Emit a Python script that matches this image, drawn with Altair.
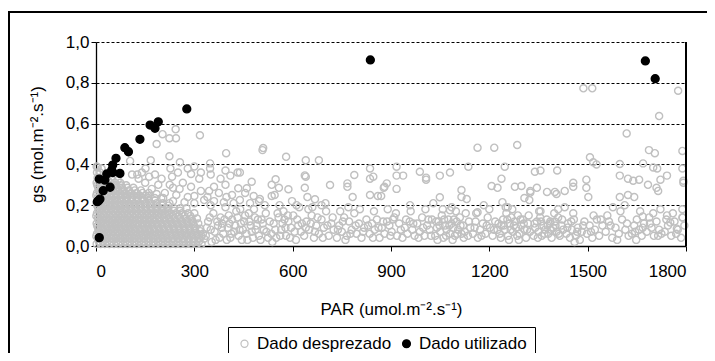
import altair as alt
import pandas as pd

FONT = "Liberation Sans"

# ---- "Dado utilizado" (black, filled) : (PAR, gs)
used_pts = [
    (4, 0.217), (8, 0.222), (12, 0.23), (10, 0.041), (22, 0.271), (27, 0.323),
    (43, 0.288), (10, 0.328), (33, 0.353), (51, 0.36), (73, 0.356), (48, 0.373),
    (51, 0.397), (61, 0.43), (88, 0.482), (99, 0.462), (134, 0.523), (165, 0.593),
    (180, 0.577), (190, 0.609), (277, 0.672), (837, 0.912), (1676, 0.907), (1706, 0.82),
]

# ---- "Dado desprezado" (grey, hollow)
# dense mass near the origin: rows of (gs, [PAR values])
blob_rows = [
    (0.010, [2, 14, 27, 41, 55, 68, 82, 96, 110, 124, 139, 153, 168, 182, 197, 212, 227, 243, 258, 274, 290, 306, 322]),
    (0.0225, [9, 21, 34, 48, 62, 75, 89, 103, 117, 131, 146, 160, 175, 190, 204, 219, 235, 250, 266, 282, 298, 314]),
    (0.035, [6, 20, 34, 48, 61, 75, 89, 103, 117, 131, 146, 160, 175, 189, 204, 219, 235, 250, 266, 282, 298, 314, 330]),
    (0.0475, [1, 13, 27, 41, 54, 68, 82, 96, 110, 124, 139, 153, 168, 182, 197, 212, 227, 243, 258, 274, 290, 306, 322]),
    (0.060, [3, 16, 30, 44, 58, 71, 85, 99, 113, 127, 142, 156, 171, 186, 200, 215, 231, 246, 262, 278, 294, 310, 326]),
    (0.0725, [10, 23, 37, 51, 65, 78, 92, 106, 120, 135, 149, 164, 178, 193, 208, 223, 239, 255, 270, 286, 302, 318]),
    (0.085, [7, 21, 35, 49, 62, 76, 90, 104, 118, 133, 148, 162, 177, 192, 207, 223, 238, 254, 270, 286, 302, 318]),
    (0.0975, [4, 17, 31, 45, 59, 72, 86, 100, 114, 128, 143, 158, 172, 188, 203, 219, 235, 251, 267, 283, 300]),
    (0.110, [2, 15, 29, 43, 57, 70, 84, 98, 112, 126, 141, 155, 170, 185, 200, 216, 231, 247, 263, 279, 296, 312]),
    (0.1225, [9, 22, 36, 50, 64, 77, 91, 105, 119, 134, 149, 164, 179, 195, 211, 227, 243, 260, 277, 294]),
    (0.135, [6, 19, 33, 47, 60, 74, 88, 102, 116, 131, 146, 161, 176, 192, 208, 224, 240, 257, 274, 291, 308]),
    (0.1475, [1, 14, 28, 42, 56, 69, 83, 97, 111, 125, 140, 155, 170, 186, 202, 218, 235, 252, 270, 288]),
    (0.160, [3, 17, 31, 45, 59, 72, 86, 100, 115, 130, 145, 161, 177, 193, 210, 227, 244, 262, 281, 300]),
    (0.1725, [10, 24, 38, 52, 66, 79, 93, 108, 123, 138, 153, 169, 185, 202, 219, 237, 256]),
    (0.185, [7, 20, 34, 48, 62, 76, 90, 105, 120, 136, 152, 168, 185, 202, 220, 238, 257, 276]),
    (0.1975, [4, 17, 31, 45, 59, 73, 88, 103, 118, 134, 150, 167, 184, 202, 221]),
    (0.210, [2, 15, 29, 43, 57, 71, 86, 101, 117, 133, 150, 167, 185, 204, 224]),
    (0.2225, [9, 22, 36, 50, 64, 79, 94, 110, 126, 143, 161, 180]),
    (0.235, [6, 19, 33, 47, 61, 76, 92, 108, 125, 142, 160, 179, 199]),
    (0.2475, [1, 13, 26, 40, 54, 68, 83, 99, 116, 133, 151]),
    (0.260, [3, 16, 30, 44, 59, 74, 90, 107, 124, 142, 161]),
    (0.2725, [10, 24, 38, 52, 67, 83, 100, 118, 137]),
    (0.285, [7, 20, 34, 48, 63, 79, 96, 114]),
    (0.2975, [4, 17, 31, 45, 60, 76, 92]),
    (0.310, [2, 15, 29, 43, 58, 74]),
    (0.3225, [9, 22, 36, 50, 66]),
    (0.335, [5, 18, 32]),
    (0.360, [3, 12]),
    (0.385, [5]),
]

blob_extra = [
    (126, 0.35), (140, 0.36), (162, 0.34), (180, 0.35), (200, 0.33), (232, 0.34), (250, 0.36),
    (280, 0.38), (300, 0.39), (320, 0.36), (350, 0.35), (380, 0.33), (395, 0.37), (410, 0.345),
    (210, 0.26), (235, 0.22), (255, 0.28), (280, 0.24), (300, 0.21), (320, 0.27), (190, 0.30),
    (150, 0.31), (170, 0.28), (265, 0.31), (225, 0.30), (315, 0.33), (290, 0.29), (245, 0.25),
    (340, 0.24), (130, 0.33), (110, 0.35), (205, 0.235), (270, 0.215), (330, 0.225), (360, 0.29),
    (375, 0.26), (395, 0.30), (415, 0.25), (300, 0.245), (185, 0.255), (235, 0.285), (160, 0.245),
    (350, 0.20), (390, 0.215),
]

band_pts = [
    (335, .05), (342, .12), (350, .08), (358, .16), (365, .03), (372, .10), (380, .14), (388, .06),
    (395, .19), (402, .09), (410, .04), (415, .13), (422, .07), (428, .17), (360, .22), (398, .24),
    (345, .27), (420, .21), (385, .11), (405, .15),
    (435, .05), (442, .11), (448, .08), (455, .15), (462, .03), (468, .12), (475, .07), (482, .18),
    (490, .10), (497, .05), (505, .13), (512, .08), (518, .16), (525, .04), (470, .21), (500, .23),
    (455, .26), (515, .20), (440, .18), (485, .14),
    (535, .06), (542, .11), (550, .04), (557, .14), (565, .08), (572, .17), (580, .05), (587, .12),
    (595, .09), (602, .15), (610, .03), (617, .10), (625, .07), (560, .20), (598, .22), (545, .25),
    (620, .19), (575, .13),
    (635, .05), (642, .12), (650, .08), (658, .15), (665, .04), (672, .10), (680, .06), (688, .13),
    (695, .09), (702, .17), (710, .05), (718, .11), (725, .08), (660, .19), (700, .21), (648, .18),
    (735, .04), (742, .10), (750, .07), (757, .14), (765, .05), (772, .12), (780, .08), (788, .16),
    (795, .06), (802, .11), (810, .04), (818, .09), (825, .13), (770, .19), (805, .18), (745, .17),
    (835, .06), (842, .11), (850, .08), (857, .13), (865, .04), (872, .09), (880, .06), (888, .12),
    (895, .10), (902, .07), (910, .14), (918, .05), (925, .11), (848, .17), (890, .18), (915, .16),
    (935, .04), (942, .09), (950, .06), (957, .12), (965, .08), (972, .05), (980, .11), (988, .07),
    (995, .14), (1002, .05), (1010, .10), (1018, .08), (1025, .13), (960, .17), (1005, .18),
    (1035, .05), (1040, .09), (1045, .12), (1050, .07), (1055, .15), (1060, .04), (1065, .10),
    (1070, .08), (1075, .13), (1080, .06), (1085, .11), (1090, .09), (1095, .05), (1100, .12),
    (1105, .08), (1110, .14), (1115, .06), (1120, .10), (1125, .07), (1058, .18), (1098, .17),
    (1042, .03), (1088, .03), (1128, .16),
    (1135, .05), (1142, .09), (1150, .06), (1158, .12), (1165, .04), (1172, .08), (1180, .11),
    (1188, .06), (1195, .14), (1202, .09), (1210, .05), (1218, .12), (1225, .08), (1160, .16),
    (1200, .18),
    (1232, .06), (1237, .10), (1242, .13), (1247, .08), (1252, .16), (1257, .05), (1262, .11),
    (1267, .14), (1272, .07), (1277, .12), (1282, .09), (1287, .15), (1292, .06), (1297, .10),
    (1302, .13), (1307, .08), (1312, .04), (1318, .11), (1324, .07), (1250, .19), (1270, .18),
    (1290, .03), (1260, .03),
    (1335, .05), (1340, .09), (1345, .12), (1350, .07), (1355, .14), (1360, .05), (1365, .10),
    (1370, .08), (1375, .13), (1380, .06), (1385, .11), (1390, .04), (1395, .09), (1400, .12),
    (1405, .07), (1410, .14), (1415, .05), (1420, .10), (1425, .08), (1352, .17), (1398, .16),
    (1435, .06), (1440, .11), (1446, .04), (1452, .08), (1458, .13), (1464, .05), (1470, .09),
    (1476, .03), (1482, .07), (1490, .12), (1498, .06), (1506, .10), (1514, .04), (1522, .08),
    (1528, .13), (1460, .02),
    (1535, .05), (1545, .10), (1555, .07), (1565, .12), (1575, .04), (1585, .09), (1595, .06),
    (1605, .13), (1615, .08), (1625, .05), (1560, .15), (1600, .17), (1590, .03),
    (1635, .06), (1642, .10), (1650, .13), (1657, .08), (1665, .05), (1672, .11), (1680, .07),
    (1688, .14), (1695, .09), (1702, .05), (1710, .12), (1718, .08), (1725, .06), (1660, .17),
    (1700, .16), (1648, .03),
    (1735, .07), (1745, .10), (1755, .05), (1765, .12), (1775, .08), (1785, .04), (1795, .10),
    (1790, .14), (1760, .16),
]

band_more = [
    (338, .09), (347, .14), (353, .02), (362, .07), (370, .12), (377, .04), (384, .09), (392, .13),
    (399, .03), (407, .11), (413, .06), (425, .10), (432, .14), (438, .08), (445, .03), (452, .12),
    (459, .06), (466, .16), (472, .10), (479, .04), (487, .08), (494, .13), (502, .03), (509, .11),
    (520, .07), (530, .12), (538, .02), (547, .08), (554, .16), (562, .05), (569, .11), (578, .09),
    (585, .15), (592, .04), (606, .07), (614, .13), (628, .11), (640, .09), (655, .11), (668, .07),
    (676, .14), (692, .04), (706, .10), (722, .14), (738, .08), (753, .12), (761, .03), (776, .06),
    (792, .10), (815, .07), (830, .10), (845, .04), (862, .09), (876, .12), (898, .05), (906, .13),
    (930, .08), (946, .13), (968, .11), (984, .04), (998, .09), (1014, .13), (1022, .05), (1038, .12),
    (1048, .10), (1062, .13), (1068, .05), (1078, .10), (1092, .13), (1102, .06), (1112, .10),
    (1122, .04), (1138, .12), (1155, .09), (1176, .05), (1192, .10), (1214, .08), (1228, .11),
    (1235, .04), (1244, .10), (1255, .13), (1265, .08), (1275, .10), (1285, .05), (1295, .13),
    (1305, .11), (1315, .08), (1338, .11), (1348, .04), (1358, .12), (1368, .06), (1378, .10),
    (1388, .08), (1402, .10), (1412, .06), (1422, .13), (1438, .09), (1450, .12), (1468, .07),
    (1486, .10), (1510, .07), (1540, .13), (1570, .10), (1620, .11), (1645, .07), (1668, .09),
    (1690, .11), (1715, .05), (1740, .13), (1770, .06),
]

upper_pts = [
    (348, 0.38), (397, 0.455), (510, 0.48), (508, 0.47), (580, 0.437), (640, 0.42), (680, 0.42),
    (640, 0.34), (788, 0.348), (203, 0.548), (243, 0.572), (224, 0.528), (244, 0.528), (317, 0.543),
    (185, 0.50), (167, 0.42), (224, 0.44), (256, 0.41), (104, 0.417), (348, 0.405), (432, 0.36),
    (290, 0.353), (227, 0.38), (151, 0.38), (2, 0.39), (17, 0.38),
    (439, 0.36), (475, 0.315), (548, 0.327), (637, 0.346), (714, 0.299), (767, 0.307), (836, 0.38),
    (836, 0.33), (846, 0.34), (767, 0.29), (434, 0.283), (460, 0.283), (536, 0.30), (558, 0.285),
    (587, 0.278), (637, 0.285), (645, 0.24), (668, 0.229), (536, 0.245), (836, 0.25), (860, 0.245),
    (878, 0.285), (481, 0.245), (439, 0.225), (497, 0.22), (612, 0.20), (688, 0.20), (783, 0.24),
    (1164, 0.482), (1215, 0.482), (1285, 0.495), (917, 0.389), (988, 0.364), (1080, 0.36),
    (1136, 0.389), (1247, 0.389), (917, 0.345), (937, 0.345), (887, 0.307), (880, 0.29), (917, 0.28),
    (1007, 0.335), (1007, 0.325), (1049, 0.345), (1237, 0.33), (1207, 0.294), (1225, 0.285),
    (1278, 0.29), (1298, 0.294), (1115, 0.274), (1115, 0.24), (1131, 0.23), (1049, 0.239),
    (958, 0.20), (1029, 0.21), (1085, 0.19), (1080, 0.175), (1164, 0.165), (1183, 0.20),
    (1240, 0.215), (1256, 0.19), (1322, 0.225), (1307, 0.235), (870, 0.245),
    (1718, 0.637), (1619, 0.552), (1507, 0.435), (1517, 0.41), (1527, 0.40), (1687, 0.47),
    (1705, 0.455), (1789, 0.466), (1598, 0.402), (1669, 0.405), (1700, 0.385), (1712, 0.38),
    (1789, 0.38), (1339, 0.364), (1356, 0.37), (1407, 0.37), (1598, 0.345), (1623, 0.33),
    (1639, 0.32), (1657, 0.325), (1496, 0.325), (1722, 0.325), (1742, 0.345), (1792, 0.32),
    (1792, 0.31), (1456, 0.31), (1456, 0.29), (1496, 0.285), (1684, 0.30), (1710, 0.285),
    (1715, 0.27), (1325, 0.27), (1325, 0.262), (1345, 0.285), (1376, 0.265), (1400, 0.265),
    (1405, 0.255), (1430, 0.27), (1502, 0.24), (1598, 0.24), (1623, 0.25), (1642, 0.24),
    (1613, 0.20), (1577, 0.19), (1722, 0.18), (1789, 0.18), (1789, 0.14), (1742, 0.15),
    (1668, 0.145), (1752, 0.115), (1772, 0.085), (1430, 0.19), (1456, 0.16), (1410, 0.18),
    (1518, 0.15), (1386, 0.12), (1356, 0.17), (1320, 0.15),
    (1487, 0.773), (1514, 0.773), (1776, 0.761),
]

x_ticks = [0, 300, 600, 900, 1200, 1500, 1800]
y_ticks = [0.0, 0.2, 0.4, 0.6, 0.8, 1.0]
series = ["Dado desprezado", "Dado utilizado"]

rows = []
for g, pars in blob_rows:
    for p in pars:
        rows.append({"par": p, "gs": g, "tipo": series[0], "ord": 0})
for p, g in blob_extra + band_pts + band_more + upper_pts:
    rows.append({"par": p, "gs": g, "tipo": series[0], "ord": 0})
for p, g in used_pts:
    rows.append({"par": p, "gs": g, "tipo": series[1], "ord": 1})
df = pd.DataFrame(rows)

W, H = 590, 204

leg = alt.Legend(title=None)

points = alt.Chart(df).mark_point(shape="circle", strokeWidth=1.4, opacity=1).encode(
    x=alt.X("par:Q", scale=alt.Scale(domain=[0, 1800], nice=False, zero=False),
            axis=alt.Axis(values=x_ticks, format="d", title="PAR (umol.m⁻².s⁻¹)", grid=False,
                          labelFontSize=17, titleFontSize=17, labelPadding=12,
                          titlePadding=22, tickSize=5)),
    y=alt.Y("gs:Q", scale=alt.Scale(domain=[0, 1], nice=False),
            axis=alt.Axis(values=y_ticks, title="gs (mol.m⁻².s⁻¹)", grid=True,
                          gridDash=[3, 2], gridColor="black", gridWidth=1,
                          labelExpr="replace(format(datum.value, '.1f'), '.', ',')",
                          labelFontSize=17, titleFontSize=17, labelPadding=2,
                          titlePadding=19, tickSize=5)),
    stroke=alt.Stroke("tipo:N", scale=alt.Scale(domain=series, range=["#c0c0c0", "#000000"]), legend=leg),
    fill=alt.Fill("tipo:N", scale=alt.Scale(domain=series, range=["transparent", "#000000"]), legend=leg),
    size=alt.Size("tipo:N", scale=alt.Scale(domain=series, range=[50, 62]), legend=leg),
    order=alt.Order("ord:Q"),
)

right_edge = alt.Chart(df).mark_rule(color="black", strokeWidth=1.2).encode(
    x=alt.datum(1800), y=alt.datum(0), y2=alt.datum(1)
)

frame = alt.Chart(df).mark_rect(filled=False, stroke="black", strokeWidth=1.2).encode(
    x=alt.value(-87), x2=alt.value(740), y=alt.value(-30), y2=alt.value(420)
)

chart = alt.layer(frame, points, right_edge).properties(
    width=W, height=H,
    autosize=alt.AutoSizeParams(type="none"),
    padding={"left": 88, "top": 34, "right": 21, "bottom": 107},
).configure_view(stroke=None).configure_axis(
    labelFont=FONT, titleFont=FONT, labelColor="black", titleColor="black",
    domainColor="black", domainWidth=1.3, tickColor="black", titleFontWeight="normal",
).configure_legend(
    orient="none", legendX=132, legendY=285, direction="horizontal",
    strokeColor="black", padding=8, labelFont=FONT, labelFontSize=17,
    labelColor="black", symbolStrokeWidth=1.2, columnPadding=6, labelOffset=4,
    fillColor="white", cornerRadius=0,
)

chart.save("out.html", embed_options={"renderer": "svg", "actions": False})
